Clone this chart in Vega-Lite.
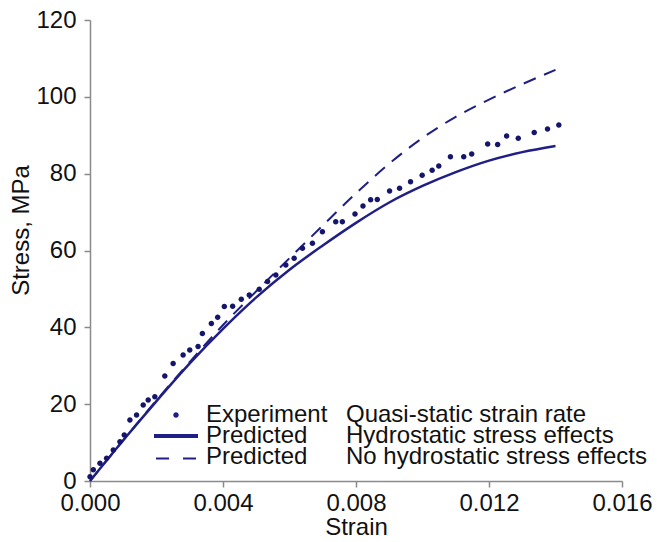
{
  "$schema": "https://vega.github.io/schema/vega-lite/v6.json",
  "width": 532,
  "height": 461,
  "autosize": {"type": "none"},
  "padding": {"left": 90, "top": 20, "right": 46, "bottom": 61},
  "background": "white",
  "config": {
    "view": {"stroke": null},
    "font": "Liberation Sans",
    "style": {"guide-label": {"lineHeight": 21.2}},
    "axis": {
      "grid": false,
      "domainColor": "#8a8a8a",
      "domainWidth": 1.5,
      "tickColor": "#8a8a8a",
      "tickWidth": 1.5,
      "tickSize": 6,
      "labelFont": "Liberation Sans",
      "labelFontSize": 24,
      "labelColor": "#111111",
      "titleFont": "Liberation Sans",
      "titleFontSize": 24,
      "titleFontWeight": "normal",
      "titleColor": "#111111"
    },
    "legend": {
      "title": null,
      "orient": "none",
      "padding": 0,
      "symbolSize": 100,
      "symbolOpacity": 1,
      "symbolFillColor": "#1f1f85",
      "symbolStrokeWidth": 0,
      "labelFont": "Liberation Sans",
      "labelFontSize": 24,
      "labelColor": "#111111",
      "labelLimit": 400,
      "labelOffset": 18
    }
  },
  "data": {
    "values": [
      {"series": "Experiment", "strain": 0.0000, "stress": 1.1},
      {"series": "Experiment", "strain": 0.0001, "stress": 2.9},
      {"series": "Experiment", "strain": 0.0003, "stress": 4.6},
      {"series": "Experiment", "strain": 0.0005, "stress": 5.9},
      {"series": "Experiment", "strain": 0.0007, "stress": 8.1},
      {"series": "Experiment", "strain": 0.0009, "stress": 10.2},
      {"series": "Experiment", "strain": 0.00103, "stress": 12.0},
      {"series": "Experiment", "strain": 0.0012, "stress": 15.9},
      {"series": "Experiment", "strain": 0.0014, "stress": 17.2},
      {"series": "Experiment", "strain": 0.0016, "stress": 19.8},
      {"series": "Experiment", "strain": 0.00175, "stress": 21.1},
      {"series": "Experiment", "strain": 0.00195, "stress": 21.9},
      {"series": "Experiment", "strain": 0.00225, "stress": 27.3},
      {"series": "Experiment", "strain": 0.0025, "stress": 30.6},
      {"series": "Experiment", "strain": 0.0028, "stress": 32.8},
      {"series": "Experiment", "strain": 0.0030, "stress": 34.1},
      {"series": "Experiment", "strain": 0.00325, "stress": 35.0},
      {"series": "Experiment", "strain": 0.00338, "stress": 38.4},
      {"series": "Experiment", "strain": 0.00365, "stress": 41.0},
      {"series": "Experiment", "strain": 0.00384, "stress": 42.6},
      {"series": "Experiment", "strain": 0.00404, "stress": 45.4},
      {"series": "Experiment", "strain": 0.00429, "stress": 45.5},
      {"series": "Experiment", "strain": 0.00455, "stress": 47.3},
      {"series": "Experiment", "strain": 0.00479, "stress": 48.4},
      {"series": "Experiment", "strain": 0.00509, "stress": 49.9},
      {"series": "Experiment", "strain": 0.00534, "stress": 51.9},
      {"series": "Experiment", "strain": 0.00559, "stress": 53.6},
      {"series": "Experiment", "strain": 0.00589, "stress": 56.2},
      {"series": "Experiment", "strain": 0.00614, "stress": 58.0},
      {"series": "Experiment", "strain": 0.00639, "stress": 60.6},
      {"series": "Experiment", "strain": 0.00669, "stress": 61.9},
      {"series": "Experiment", "strain": 0.00699, "stress": 64.9},
      {"series": "Experiment", "strain": 0.00739, "stress": 67.5},
      {"series": "Experiment", "strain": 0.00759, "stress": 67.5},
      {"series": "Experiment", "strain": 0.00797, "stress": 69.5},
      {"series": "Experiment", "strain": 0.00821, "stress": 71.6},
      {"series": "Experiment", "strain": 0.00844, "stress": 73.2},
      {"series": "Experiment", "strain": 0.00864, "stress": 73.3},
      {"series": "Experiment", "strain": 0.00901, "stress": 75.5},
      {"series": "Experiment", "strain": 0.00931, "stress": 76.2},
      {"series": "Experiment", "strain": 0.00964, "stress": 77.9},
      {"series": "Experiment", "strain": 0.00999, "stress": 79.6},
      {"series": "Experiment", "strain": 0.01029, "stress": 80.9},
      {"series": "Experiment", "strain": 0.01049, "stress": 82.0},
      {"series": "Experiment", "strain": 0.01084, "stress": 84.4},
      {"series": "Experiment", "strain": 0.01124, "stress": 84.4},
      {"series": "Experiment", "strain": 0.01148, "stress": 85.1},
      {"series": "Experiment", "strain": 0.01196, "stress": 87.7},
      {"series": "Experiment", "strain": 0.01226, "stress": 87.6},
      {"series": "Experiment", "strain": 0.01253, "stress": 89.8},
      {"series": "Experiment", "strain": 0.01288, "stress": 89.2},
      {"series": "Experiment", "strain": 0.01336, "stress": 90.7},
      {"series": "Experiment", "strain": 0.01376, "stress": 91.6},
      {"series": "Experiment", "strain": 0.01410, "stress": 92.7},
      {"series": "Hydrostatic stress effects", "strain": 0.000, "stress": 0},
      {"series": "Hydrostatic stress effects", "strain": 0.001, "stress": 10.6},
      {"series": "Hydrostatic stress effects", "strain": 0.002, "stress": 20.8},
      {"series": "Hydrostatic stress effects", "strain": 0.003, "stress": 30.6},
      {"series": "Hydrostatic stress effects", "strain": 0.004, "stress": 39.6},
      {"series": "Hydrostatic stress effects", "strain": 0.005, "stress": 47.8},
      {"series": "Hydrostatic stress effects", "strain": 0.006, "stress": 55.0},
      {"series": "Hydrostatic stress effects", "strain": 0.007, "stress": 61.3},
      {"series": "Hydrostatic stress effects", "strain": 0.008, "stress": 67.2},
      {"series": "Hydrostatic stress effects", "strain": 0.009, "stress": 72.5},
      {"series": "Hydrostatic stress effects", "strain": 0.010, "stress": 76.8},
      {"series": "Hydrostatic stress effects", "strain": 0.011, "stress": 80.4},
      {"series": "Hydrostatic stress effects", "strain": 0.012, "stress": 83.4},
      {"series": "Hydrostatic stress effects", "strain": 0.013, "stress": 85.6},
      {"series": "Hydrostatic stress effects", "strain": 0.014, "stress": 87.2},
      {"series": "No hydrostatic stress effects", "strain": 0.000, "stress": 0},
      {"series": "No hydrostatic stress effects", "strain": 0.001, "stress": 10.6},
      {"series": "No hydrostatic stress effects", "strain": 0.002, "stress": 21.0},
      {"series": "No hydrostatic stress effects", "strain": 0.003, "stress": 31.0},
      {"series": "No hydrostatic stress effects", "strain": 0.004, "stress": 40.6},
      {"series": "No hydrostatic stress effects", "strain": 0.005, "stress": 49.4},
      {"series": "No hydrostatic stress effects", "strain": 0.006, "stress": 58.0},
      {"series": "No hydrostatic stress effects", "strain": 0.007, "stress": 66.5},
      {"series": "No hydrostatic stress effects", "strain": 0.008, "stress": 74.9},
      {"series": "No hydrostatic stress effects", "strain": 0.009, "stress": 82.6},
      {"series": "No hydrostatic stress effects", "strain": 0.010, "stress": 89.3},
      {"series": "No hydrostatic stress effects", "strain": 0.011, "stress": 94.8},
      {"series": "No hydrostatic stress effects", "strain": 0.012, "stress": 99.3},
      {"series": "No hydrostatic stress effects", "strain": 0.013, "stress": 103.3},
      {"series": "No hydrostatic stress effects", "strain": 0.014, "stress": 107.0}
    ]
  },
  "encoding": {
    "x": {
      "field": "strain",
      "type": "quantitative",
      "title": "Strain",
      "scale": {"domain": [0, 0.016], "nice": false, "zero": false},
      "axis": {"values": [0, 0.004, 0.008, 0.012, 0.016], "format": ".3f", "labelFlush": false, "labelPadding": 4, "titlePadding": 0}
    },
    "y": {
      "field": "stress",
      "type": "quantitative",
      "title": "Stress, MPa",
      "scale": {"domain": [0, 120], "nice": false},
      "axis": {"values": [0, 20, 40, 60, 80, 100, 120], "labelPadding": 8, "titlePadding": 2, "titleY": 210}
    }
  },
  "layer": [
    {
      "transform": [{"filter": "datum.series === 'Hydrostatic stress effects'"}],
      "mark": {"type": "line", "color": "#1f1f85", "strokeWidth": 2.5, "interpolate": "monotone"}
    },
    {
      "transform": [{"filter": "datum.series === 'No hydrostatic stress effects'"}],
      "mark": {"type": "line", "color": "#1f1f85", "strokeWidth": 2, "strokeDash": [13, 9], "interpolate": "monotone"}
    },
    {
      "transform": [{"filter": "datum.series === 'Experiment'"}],
      "mark": {
        "type": "point",
        "filled": true,
        "opacity": 1,
        "color": "#15156b",
        "size": 100,
        "shape": "M-0.55,0A0.55,0.55,0,1,0,0.55,0A0.55,0.55,0,1,0,-0.55,0Z"
      }
    },
    {
      "transform": [{"filter": "datum.series === 'Experiment' && datum.strain === 0"}],
      "mark": {"type": "point", "filled": true, "opacity": 0, "size": 100, "color": "#1f1f85"},
      "encoding": {
        "shape": {
          "field": "series",
          "type": "nominal",
          "scale": {
            "domain": ["Experiment"],
            "range": ["M-0.55,0A0.55,0.55,0,1,0,0.55,0A0.55,0.55,0,1,0,-0.55,0ZM-4.4,3.8L4.4,3.8L4.4,4.6L-4.4,4.6ZM-4,8.5L-1.4,8.5L-1.4,8.9L-4,8.9ZM1.4,8.5L4,8.5L4,8.9L1.4,8.9Z"]
          },
          "legend": {
            "legendX": 74,
            "legendY": 383,
            "labelExpr": "['Experiment', 'Predicted', 'Predicted']"
          }
        }
      }
    },
    {
      "transform": [{"filter": "datum.series === 'Experiment' && datum.strain === 0"}],
      "mark": {"type": "point", "filled": true, "opacity": 0, "size": 100, "color": "#1f1f85"},
      "encoding": {
        "shape": {
          "field": "series",
          "type": "nominal",
          "scale": {"domain": ["Experiment"], "range": ["M0,0"]},
          "legend": {
            "legendX": 214,
            "legendY": 383,
            "labelExpr": "['Quasi-static strain rate', 'Hydrostatic stress effects', 'No hydrostatic stress effects']"
          }
        }
      }
    }
  ],
  "resolve": {"scale": {"shape": "independent"}, "legend": {"shape": "independent"}}
}
